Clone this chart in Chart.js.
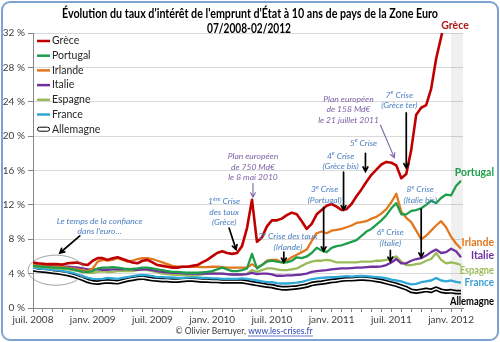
<!DOCTYPE html>
<html>
<head>
<meta charset="utf-8">
<script src="https://cdn.jsdelivr.net/npm/chart.js@4/dist/chart.umd.min.js"></script>
<style>
  html, body { margin: 0; padding: 0; background: #fff; }
</style>
</head>
<body>
<canvas id="myChart" width="500" height="342"></canvas>
<script>
// taux à 10 ans, un point tous les demi-mois depuis juil. 2008 (mois 0)
const etiquettesX = ["juil. 2008", "janv. 2009", "juil. 2009", "janv. 2010", "juil. 2010", "janv. 2011", "juil. 2011", "janv. 2012"];
const pays = ["Grèce", "Portugal", "Irlande", "Italie", "Espagne", "France", "Allemagne"];

const grece = [5.3,5.2,5.15,5.1,5.1,5.1,5.05,5.2,5.25,5.3,5.1,5.0,5.5,5.8,5.8,5.6,5.8,5.9,5.7,5.5,
  5.3,5.2,5.5,5.6,5.3,5.0,4.9,4.8,4.7,4.7,4.8,4.8,4.9,5.0,5.3,5.6,6.0,6.4,6.6,6.4,
  6.3,6.4,7.2,9.3,12.6,7.7,8.2,9.5,10.2,10.2,10.4,10.8,11.1,10.9,10.1,9.2,9.8,10.9,11.4,11.9,
  12.1,11.8,11.4,11.5,12.1,13.0,13.8,14.7,15.5,16.1,16.7,17.0,16.9,16.6,15.1,15.6,18.4,22.5,23.3,23.6,
  25.5,29.0,31.5,34.0,null,null,null];
const portugal = [4.9,4.85,4.8,4.75,4.7,4.7,4.65,4.6,4.5,4.35,4.2,4.2,4.3,4.6,4.7,4.7,4.75,4.7,4.6,4.5,
  4.55,4.6,4.7,4.7,4.6,4.5,4.4,4.3,4.2,4.2,4.15,4.1,4.1,4.1,4.15,4.2,4.3,4.5,4.7,4.5,
  4.3,4.3,4.4,4.6,6.3,4.6,5.0,5.4,5.5,5.4,5.3,5.3,5.5,5.9,5.8,6.0,6.4,7.0,6.7,6.5,
  7.0,7.2,7.3,7.5,7.7,7.9,8.4,8.9,9.2,9.7,10.2,10.8,11.6,12.2,10.9,10.9,11.3,11.4,11.6,12.0,
  12.5,12.2,12.8,13.2,13.1,14.2,14.8];
const irlande = [5.0,4.95,4.9,4.85,4.8,4.8,4.75,4.7,4.6,4.5,4.4,4.3,4.6,5.4,5.6,5.5,5.6,5.8,5.6,5.4,
  5.5,5.7,5.8,5.8,5.7,5.5,5.3,5.1,4.9,4.8,4.8,4.8,4.8,4.8,4.75,4.75,4.8,4.8,4.75,4.7,
  4.7,4.7,4.7,4.7,5.1,4.7,5.0,5.5,5.6,5.6,5.3,5.5,5.9,6.2,6.5,6.8,7.8,8.7,8.9,8.7,
  9.0,9.1,9.2,9.4,9.6,9.9,10.0,10.1,10.4,10.6,11.0,11.5,12.3,13.3,11.2,10.5,10.0,9.0,8.0,8.4,
  9.0,9.6,10.1,9.4,8.3,7.5,6.9];
const italie = [5.0,4.95,4.9,4.9,4.85,4.85,4.8,4.8,4.75,4.7,4.6,4.5,4.5,4.5,4.45,4.45,4.5,4.5,4.5,4.55,
  4.5,4.45,4.5,4.5,4.4,4.3,4.2,4.15,4.1,4.1,4.05,4.0,4.0,4.0,4.0,4.0,4.0,4.0,4.0,3.95,
  3.9,3.9,3.9,3.95,4.1,3.95,4.0,4.0,3.9,3.75,3.75,3.8,3.8,3.85,3.9,4.0,4.2,4.3,4.35,4.4,
  4.5,4.55,4.6,4.6,4.65,4.7,4.7,4.75,4.8,4.8,4.85,5.0,5.3,5.7,5.2,5.2,5.5,5.7,5.8,6.1,
  6.5,6.8,6.4,6.5,6.9,6.6,5.9];
const espagne = [4.85,4.8,4.75,4.7,4.65,4.6,4.55,4.5,4.4,4.3,4.2,4.1,4.1,4.2,4.25,4.2,4.2,4.3,4.3,4.3,
  4.3,4.4,4.5,4.4,4.3,4.15,4.0,3.95,3.9,3.85,3.85,3.8,3.8,3.85,3.9,4.0,4.05,4.0,4.0,3.95,
  3.9,3.9,3.95,4.0,4.4,4.2,4.4,4.6,4.6,4.5,4.4,4.4,4.5,4.6,4.9,5.2,5.4,5.5,5.5,5.6,
  5.5,5.3,5.3,5.3,5.3,5.3,5.4,5.4,5.4,5.5,5.5,5.6,5.8,6.0,5.4,5.0,5.0,5.1,5.2,5.5,
  5.7,6.4,5.6,5.2,5.3,5.2,5.0];
const france = [4.7,4.6,4.55,4.5,4.45,4.4,4.3,4.2,4.1,3.9,3.7,3.5,3.4,3.35,3.4,3.5,3.45,3.4,3.5,3.6,
  3.7,3.8,3.85,3.8,3.7,3.6,3.6,3.55,3.55,3.5,3.5,3.55,3.6,3.55,3.5,3.5,3.45,3.45,3.4,3.4,
  3.4,3.4,3.45,3.4,3.3,3.2,3.1,3.0,3.0,2.9,2.85,2.85,2.9,2.95,3.05,3.2,3.35,3.45,3.5,3.55,
  3.6,3.6,3.65,3.7,3.65,3.7,3.75,3.7,3.65,3.6,3.55,3.45,3.3,3.2,3.1,2.9,2.75,2.8,3.0,3.1,
  3.2,3.5,3.2,3.1,3.2,3.05,2.95];
const allemagne = [4.5,4.4,4.35,4.3,4.2,4.15,4.05,3.95,3.8,3.6,3.4,3.15,3.0,2.95,3.05,3.1,3.05,3.0,3.15,3.3,
  3.4,3.5,3.55,3.45,3.35,3.3,3.25,3.25,3.2,3.2,3.25,3.3,3.3,3.25,3.2,3.2,3.15,3.15,3.1,3.1,
  3.1,3.1,3.1,3.0,2.9,2.8,2.7,2.6,2.55,2.4,2.3,2.3,2.35,2.4,2.5,2.6,2.8,2.9,2.95,3.05,
  3.15,3.2,3.3,3.35,3.35,3.4,3.45,3.4,3.35,3.25,3.15,3.0,2.85,2.7,2.5,2.3,2.0,1.9,2.0,2.1,
  2.0,2.25,2.0,1.9,1.95,1.85,1.85];

const series = [grece, portugal, irlande, italie, espagne, france, allemagne];
const couleurs = ["#c00000", "#1e9e4a", "#e2781e", "#7030a0", "#9bbb59", "#2fa8d8", "#000000"];
const couleursTexte = ["#b01818", "#1e9e4a", "#e2781e", "#7030a0", "#9bbb59", "#3b9fd6", "#000000"];
const mois = grece.map((v, i) => i / 2);
const nbMois = 44;
const debutBande = 42;

const bleuNote = "#4a7fc0";
const violetNote = "#7e62a6";
// textes des crises : m, v = position en mois / % ; fl = flèche [m1, v1, m2, v2]
const notes = [
  { l: ["Le temps de la confiance", "dans l'euro…"], m: 6.7, v: 10.1, c: bleuNote, fl: [4.7, 8.4, 2.7, 6.4], fc: "#000" },
  { l: ["1^ère Crise", "des taux", "(Grèce)"], m: 19.2, v: 12.4, c: bleuNote, fl: [19.7, 9.3, 20.4, 6.8], fc: "#000" },
  { l: ["Plan européen", "de 750 Md€", "le 8 mai 2010"], m: 22.1, v: 17.6, c: violetNote, fl: [22.1, 14.5, 22.1, 12.9], fc: violetNote },
  { l: ["2^e Crise des taux", "(Irlande)"], m: 25.6, v: 8.3, c: bleuNote, fl: [25.2, 6.5, 25.2, 5.3], fc: "#000" },
  { l: ["3^e Crise", "(Portugal)"], m: 29.3, v: 13.8, c: bleuNote, fl: [29.2, 11.7, 29.2, 6.6], fc: "#000" },
  { l: ["4^e Crise", "(Grèce bis)"], m: 30.9, v: 17.7, c: bleuNote, fl: [31.2, 15.8, 31.2, 11.4], fc: "#000" },
  { l: ["5^e Crise"], m: 33.2, v: 19.2, c: bleuNote, fl: [33.4, 18.0, 33.4, 15.9], fc: "#000" },
  { l: ["Plan européen", "de 158 Md€", "le 21 juillet 2011"], m: 31.7, v: 24.3, c: violetNote, fl: [34.9, 21.3, 36.3, 17.5], fc: violetNote },
  { l: ["7^e Crise", "(Grèce ter)"], m: 36.8, v: 24.8, c: bleuNote, fl: [37.5, 22.7, 37.5, 16.3], fc: "#000" },
  { l: ["6^e Crise", "(Italie)"], m: 35.9, v: 8.8, c: bleuNote, fl: [35.9, 6.7, 35.9, 5.4], fc: "#000" },
  { l: ["8^e Crise", "(Italie bis)"], m: 38.9, v: 13.8, c: bleuNote, fl: [39.0, 11.5, 39.0, 5.9], fc: "#000" }
];
// hauteur des noms à droite (en %)
const niveauxNoms = [32.9, 15.7, 7.6, 6.05, 4.4, 2.9, 0.8];

function ecrire(ctx, txt, cx, y, taille, style) {
  // "^xxx" = exposant
  const parts = txt.split(/\^(\S+)/);
  let total = 0;
  parts.forEach((p, i) => {
    ctx.font = style + " " + (i % 2 ? taille * 0.7 : taille) + "px Lato";
    total += ctx.measureText(p).width;
  });
  let x = cx - total / 2;
  ctx.textAlign = "left";
  parts.forEach((p, i) => {
    const sup = i % 2 === 1;
    ctx.font = style + " " + (sup ? taille * 0.7 : taille) + "px Lato";
    ctx.fillText(p, x, sup ? y - taille * 0.3 : y);
    x += ctx.measureText(p).width;
  });
}

function fleche(ctx, x1, y1, x2, y2, couleur, ep) {
  const ang = Math.atan2(y2 - y1, x2 - x1);
  const t = 5;
  ctx.strokeStyle = couleur;
  ctx.lineWidth = ep;
  ctx.lineCap = "round";
  ctx.beginPath();
  ctx.moveTo(x1, y1);
  ctx.lineTo(x2, y2);
  ctx.moveTo(x2 - t * Math.cos(ang - 0.5), y2 - t * Math.sin(ang - 0.5));
  ctx.lineTo(x2, y2);
  ctx.lineTo(x2 - t * Math.cos(ang + 0.5), y2 - t * Math.sin(ang + 0.5));
  ctx.stroke();
}

const decor = {
  id: "decor",
  beforeDatasetsDraw(chart) {
    const { ctx, chartArea: a, scales: { x } } = chart;
    const x0 = x.getPixelForValue(debutBande);
    ctx.save();
    ctx.fillStyle = "rgba(0,0,0,0.06)";
    ctx.fillRect(x0, a.top, a.right - x0, a.bottom - a.top);
    ctx.restore();
  },
  afterDraw(chart) {
    const { ctx, chartArea: a, scales: { x, y } } = chart;
    ctx.save();
    ctx.textBaseline = "middle";

    // titre
    ctx.fillStyle = "#000";
    ctx.textAlign = "center";
    ctx.font = "bold 12.5px Lato";
    ctx.fillText("Évolution du taux d'intérêt de l'emprunt d'État à 10 ans de pays de la Zone Euro", 250, 14, 376);
    ctx.fillText("07/2008-02/2012", 249, 29, 84);

    // légende
    pays.forEach((nom, i) => {
      const ly = 41 + i * 14.7;
      if (i === 6) {
        ctx.strokeStyle = "#000";
        ctx.lineWidth = 1;
        ctx.fillStyle = "#fff";
        ctx.beginPath();
        ctx.roundRect(37.5, ly - 2, 12, 4, 2);
        ctx.fill();
        ctx.stroke();
      } else {
        ctx.strokeStyle = couleurs[i];
        ctx.lineWidth = 2.5;
        ctx.beginPath();
        ctx.moveTo(37, ly);
        ctx.lineTo(50, ly);
        ctx.stroke();
      }
      ctx.fillStyle = "#262626";
      ctx.textAlign = "left";
      ctx.font = "10.5px Lato";
      ctx.fillText(nom, 52, ly);
    });

    // noms à droite
    ctx.font = "bold 10.5px Lato";
    pays.forEach((nom, i) => {
      ctx.fillStyle = couleursTexte[i];
      const ny = y.getPixelForValue(niveauxNoms[i]);
      if (i === 0) {
        ctx.textAlign = "center";
        ctx.fillText(nom, 455, ny, 30);
      } else {
        ctx.textAlign = "right";
        ctx.fillText(nom, 494, ny, nom.length * 4.9);
      }
    });

    // ellipse de la confiance
    ctx.strokeStyle = "#8c8c8c";
    ctx.lineWidth = 0.8;
    ctx.beginPath();
    ctx.ellipse(x.getPixelForValue(2.3), y.getPixelForValue(4.4),
      x.getPixelForValue(2.8) - x.getPixelForValue(0), y.getPixelForValue(0) - y.getPixelForValue(1.75), 0, 0, Math.PI * 2);
    ctx.stroke();

    // annotations
    notes.forEach(n => {
      ctx.fillStyle = n.c;
      const cx = x.getPixelForValue(n.m);
      const cy = y.getPixelForValue(n.v);
      n.l.forEach((t, k) => ecrire(ctx, t, cx, cy + k * 10.5, 8.5, "italic"));
      const f = n.fl;
      fleche(ctx, x.getPixelForValue(f[0]), y.getPixelForValue(f[1]), x.getPixelForValue(f[2]), y.getPixelForValue(f[3]),
        n.fc, n.fc === "#000" ? 1.7 : 1.1);
    });

    // source
    ctx.font = "8.5px Lato";
    ctx.textAlign = "left";
    ctx.fillStyle = "#404040";
    const s1 = "© Olivier Berruyer, ";
    const s2 = "www.les-crises.fr";
    const w1 = ctx.measureText(s1).width;
    const w2 = ctx.measureText(s2).width;
    const sx = 244 - (w1 + w2) / 2;
    ctx.fillText(s1, sx, 331);
    ctx.fillStyle = "#2a44b0";
    ctx.fillText(s2, sx + w1, 331);
    ctx.strokeStyle = "#2a44b0";
    ctx.lineWidth = 0.7;
    ctx.beginPath();
    ctx.moveTo(sx + w1, 336);
    ctx.lineTo(sx + w1 + w2, 336);
    ctx.stroke();

    // cadre
    ctx.strokeStyle = "#7ea3d3";
    ctx.lineWidth = 2;
    ctx.beginPath();
    ctx.roundRect(2, 2, 496, 338, 8);
    ctx.stroke();
    ctx.restore();
  }
};

const datasets = [];
series.forEach((serie, i) => {
  const pts = serie.map((v, k) => ({ x: mois[k], y: v }));
  if (i === 6) {
    datasets.push({ label: "", data: pts, borderColor: "#ffffff", borderWidth: 1.4 });
    datasets.push({ label: pays[i], data: pts, borderColor: "#000000", borderWidth: 4.8 });
  } else {
    datasets.push({ label: pays[i], data: pts, borderColor: couleurs[i], borderWidth: i === 0 ? 2.6 : 2.3 });
  }
});

const myChart = new Chart(document.getElementById("myChart"), {
  type: "line",
  data: { datasets },
  options: {
    responsive: false,
    animation: false,
    layout: { padding: { top: 33, right: 37, bottom: 0, left: 0 } },
    plugins: { legend: { display: false }, title: { display: false }, tooltip: { enabled: false } },
    elements: { point: { radius: 0 }, line: { tension: 0, borderJoinStyle: "round" } },
    scales: {
      x: {
        type: "linear",
        min: 0,
        max: 43.2,
        afterFit: s => { s.height = 34; },
        afterBuildTicks: s => { s.ticks = Array.from({ length: nbMois }, (e, k) => ({ value: k })); },
        grid: { drawOnChartArea: false, tickLength: 4, color: "#868686" },
        border: { color: "#868686" },
        ticks: {
          autoSkip: false, maxRotation: 0, padding: 2, color: "#404040",
          font: { family: "Lato", size: 10 },
          callback: v => (v % 6 === 0 ? etiquettesX[v / 6] : "")
        }
      },
      y: {
        min: 0,
        max: 32,
        afterFit: s => { s.width = 33; },
        grid: { color: "#d9d9d9", tickLength: 5, tickColor: "#868686" },
        border: { color: "#868686" },
        ticks: { stepSize: 4, padding: 3, color: "#404040", font: { family: "Lato", size: 10 }, callback: v => v + " %" }
      }
    }
  },
  plugins: [decor]
});
</script>
</body>
</html>
